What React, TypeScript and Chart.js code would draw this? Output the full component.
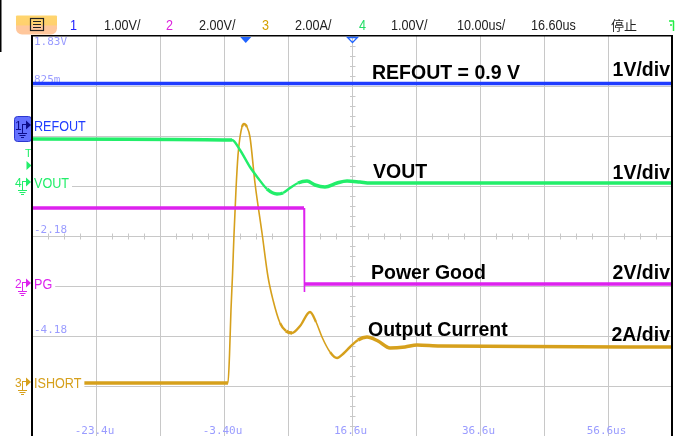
import React, { useEffect, useRef } from "react";
import { Chart, registerables } from "chart.js";
Chart.register(...registerables);

// ---------- Time base (microseconds, 10 us/div, trigger at 0) ----------
const timeMin = -33.4;
const timeMax = 66.6;
const timeGrid = [-23.4, -13.4, -3.4, 6.6, 16.6, 26.6, 36.6, 46.6, 56.6];
const timeLabelValues = [-23.4, -3.4, 16.6, 36.6, 56.6];
const timeLabels = ["-23.4u", "-3.40u", "16.6u", "36.6u", "56.6us"];
const divGrid = [-3, -2, -1, 0, 1, 2, 3];

// ---------- Channel 1: REFOUT (V) ----------
const refoutTime = [-33.4, 66.6];
const refoutValue = [0.83, 0.83];

// ---------- Channel 4: VOUT (V) ----------
const voutTime = [-33.4, -2.15, -0.9, 0.66, 1.91, 3.32, 4.88, 5.82, 6.91, 8.16, 9.57, 10.82, 12.38, 14.26, 15.82, 17.85, 19.41, 24.1, 66.6];
const voutValue = [0.86, 0.84, 0.64, 0.3, 0.08, -0.14, -0.24, -0.22, -0.12, -0.02, 0.02, -0.06, -0.1, -0.02, 0.02, 0.0, -0.02, -0.02, -0.02];

// ---------- Channel 2: PG (V) ----------
const pgTime = [-33.4, 9.1, 9.1, 9.25, 9.45, 66.6];
const pgValue = [3.0, 3.0, -0.36, -0.04, -0.04, -0.04];

// ---------- Channel 3: ISHORT (A) ----------
const ishortTime = [-33.4, -2.78, -2.54, -2.31, -2.07, -1.84, -1.53, -1.21, -0.9, -0.59, -0.28, 0.19, 0.66, 1.44, 2.54, 3.48, 4.26, 5.35, 6.29, 7.23, 8.48, 10.04, 10.98, 11.91, 13.16, 14.26, 15.35, 16.29, 17.54, 18.94, 20.66, 22.54, 24.88, 26.76, 30.35, 66.6];
const ishortValue = [-0.04, -0.04, 1.08, 2.88, 4.28, 5.88, 7.68, 9.08, 9.8, 10.2, 10.32, 10.2, 9.8, 7.96, 5.96, 4.2, 3.28, 2.36, 2.04, 1.96, 2.24, 2.8, 2.4, 1.8, 1.2, 0.96, 1.16, 1.4, 1.68, 1.8, 1.64, 1.36, 1.4, 1.48, 1.44, 1.4];

// ---------- Channel settings ----------
const channelNames = ["REFOUT", "VOUT", "PG", "ISHORT"];
const channelNumbers = ["1", "4", "2", "3"];
const channelUnitsPerDiv = [1, 1, 2, 2];
const channelGroundDiv = [2.22, 1.08, -0.94, -2.92];
const channelColors = ["#1f3cff", "#22ee6a", "#dd22ee", "#d6a01c"];

// ---------- Texts ----------
const levelTexts = ["1.83V", "825m", "-2.18", "-4.18"];
const levelDivs = [3.87, 3.12, 0.12, -1.88];
const headerTexts = ["1", "1.00V/", "2", "2.00V/", "3", "2.00A/", "4", "1.00V/", "10.00us/", "16.60us", "停止"];
const annotationTexts = ["REFOUT = 0.9 V", "VOUT", "Power Good", "Output Current"];
const scaleTexts = ["1V/div", "1V/div", "2V/div", "2A/div"];

const traceTimes = [refoutTime, voutTime, pgTime, ishortTime];
const traceValues = [refoutValue, voutValue, pgValue, ishortValue];

function txt(ctx: CanvasRenderingContext2D, s: string, x: number, y: number, font: string, color: string, sx = 1, align: CanvasTextAlign = "left") {
  ctx.save();
  ctx.font = font;
  ctx.fillStyle = color;
  ctx.textAlign = align;
  ctx.textBaseline = "alphabetic";
  ctx.translate(x, y);
  ctx.scale(sx, 1);
  ctx.fillText(s, 0, 0);
  ctx.restore();
}

const segWidth = (c: any) => {
  const dx = Math.abs(c.p1.x - c.p0.x);
  const dy = Math.abs(c.p1.y - c.p0.y);
  if (dy > 1.8 * dx) return 1.6;
  if (dy > 0.6 * dx) return 2.4;
  return 3.5;
};

function drawMarker(ctx: CanvasRenderingContext2D, num: string, gy: number, color: string) {
  txt(ctx, num, 15, gy + 4.5, "12px 'Liberation Sans', Arial, sans-serif", color);
  ctx.save();
  ctx.strokeStyle = color;
  ctx.fillStyle = color;
  ctx.lineWidth = 1;
  ctx.beginPath();
  ctx.moveTo(22, gy - 0.5);
  ctx.lineTo(26, gy - 0.5);
  ctx.moveTo(22.5, gy - 0.5);
  ctx.lineTo(22.5, gy + 8);
  ctx.moveTo(18, gy + 8.5);
  ctx.lineTo(27, gy + 8.5);
  ctx.moveTo(19.5, gy + 10.5);
  ctx.lineTo(25.5, gy + 10.5);
  ctx.moveTo(21, gy + 12.5);
  ctx.lineTo(24, gy + 12.5);
  ctx.stroke();
  ctx.beginPath();
  ctx.moveTo(26, gy - 4.5);
  ctx.lineTo(31, gy);
  ctx.lineTo(26, gy + 4.5);
  ctx.closePath();
  ctx.fill();
  ctx.restore();
}

const scopePlugin = {
  id: "scope",
  beforeDatasetsDraw(chart: any) {
    const { ctx, chartArea: a, scales } = chart;
    const x = scales.x, y = scales.y;
    ctx.save();
    ctx.strokeStyle = "#c8c8c8";
    ctx.lineWidth = 1;
    ctx.beginPath();
    timeGrid.forEach((t) => {
      const px = Math.round(x.getPixelForValue(t)) + 0.5;
      ctx.moveTo(px, a.top);
      ctx.lineTo(px, a.bottom);
    });
    divGrid.forEach((d) => {
      const py = Math.round(y.getPixelForValue(d)) + 0.5;
      ctx.moveTo(a.left, py);
      ctx.lineTo(a.right, py);
    });
    ctx.stroke();
    // minor ticks on centre axes
    const cx = Math.round(x.getPixelForValue(16.6)) + 0.5;
    const cy = Math.round(y.getPixelForValue(0)) + 0.5;
    ctx.beginPath();
    for (let i = 0; i <= 40; i++) {
      const py = Math.round(y.getPixelForValue(-4 + i * 0.2)) + 0.5;
      ctx.moveTo(cx - 2.5, py);
      ctx.lineTo(cx + 3, py);
    }
    for (let i = 0; i <= 40; i++) {
      const px = Math.round(x.getPixelForValue(timeMin + i * 2.5)) + 0.5;
      ctx.moveTo(px, cy - 3);
      ctx.lineTo(px, cy + 3);
    }
    ctx.stroke();
    // level readouts
    ctx.textBaseline = "middle";
    levelTexts.forEach((s, i) => {
      ctx.font = "11px 'DejaVu Sans Mono', monospace";
      ctx.fillStyle = "#9a9cff";
      ctx.textAlign = "left";
      ctx.fillText(s, 34, y.getPixelForValue(levelDivs[i]));
    });
    timeLabels.forEach((s, i) => {
      ctx.font = "11px 'DejaVu Sans Mono', monospace";
      ctx.fillStyle = "#9a9cff";
      ctx.textAlign = "center";
      ctx.fillText(s, x.getPixelForValue(timeLabelValues[i]) - 1.5, 431);
    });
    ctx.restore();
  },
  afterDatasetsDraw(chart: any) {
    const { ctx, chartArea: a, scales } = chart;
    const x = scales.x, y = scales.y;
    ctx.save();
    // channel name labels with white background
    const labelFont = "14px 'Liberation Sans', Arial, sans-serif";
    channelNames.forEach((name, i) => {
      const gy = y.getPixelForValue(channelGroundDiv[i]);
      ctx.font = labelFont;
      const w = ctx.measureText(name).width * 0.9;
      ctx.fillStyle = "#ffffff";
      ctx.fillRect(a.left + 1, gy - 7, w + 4, 14);
      txt(ctx, name, 34, gy + 5.5, labelFont, channelColors[i], 0.9);
    });
    // channel 1 marker box
    const g1 = y.getPixelForValue(channelGroundDiv[0]);
    ctx.beginPath();
    ctx.roundRect(14.5, g1 - 8.5, 17, 25, 3);
    ctx.fillStyle = "#6471ff";
    ctx.fill();
    ctx.strokeStyle = "#2b37d0";
    ctx.lineWidth = 1;
    ctx.stroke();
    drawMarker(ctx, channelNumbers[0], g1, "#0d0d8a");
    for (let i = 1; i < 4; i++) {
      drawMarker(ctx, channelNumbers[i], y.getPixelForValue(channelGroundDiv[i]), channelColors[i]);
    }
    // trigger level marker
    txt(ctx, "T", 25, 157, "11px 'Liberation Sans', Arial, sans-serif", "#22ee6a");
    ctx.fillStyle = "#22ee6a";
    ctx.beginPath();
    ctx.moveTo(26.5, 161);
    ctx.lineTo(31.5, 165.5);
    ctx.lineTo(26.5, 170);
    ctx.closePath();
    ctx.fill();

    // annotations
    const aFont = "bold 19.5px 'Liberation Sans', Arial, sans-serif";
    const annX = [372, 373, 371, 368];
    const annY = [79, 178, 279, 336];
    const scY = [76, 179, 279, 341];
    annotationTexts.forEach((s, i) => txt(ctx, s, annX[i], annY[i], aFont, "#000000"));
    scaleTexts.forEach((s, i) => txt(ctx, s, 670, scY[i], aFont, "#000000", 1, "right"));

    // borders
    ctx.fillStyle = "#000000";
    ctx.fillRect(a.left - 1, a.top - 1, a.right - a.left + 2, 1.5);
    ctx.fillRect(a.left - 1, a.top - 1, 2, a.bottom - a.top + 1);
    ctx.fillRect(a.right - 1, a.top - 1, 2, a.bottom - a.top + 1);
    ctx.fillRect(0, 0, 1.5, 52);

    // trigger position markers
    const tp = x.getPixelForValue(0);
    ctx.fillStyle = "#1f63ff";
    ctx.beginPath();
    ctx.moveTo(tp - 5.5, a.top + 1);
    ctx.lineTo(tp + 5.5, a.top + 1);
    ctx.lineTo(tp, a.top + 7);
    ctx.closePath();
    ctx.fill();
    const cp = x.getPixelForValue(16.6) + 0.5;
    ctx.strokeStyle = "#1f63ff";
    ctx.lineWidth = 1.3;
    ctx.beginPath();
    ctx.moveTo(cp - 5, a.top + 1.5);
    ctx.lineTo(cp + 5, a.top + 1.5);
    ctx.lineTo(cp, a.top + 6.5);
    ctx.closePath();
    ctx.stroke();

    // header bar
    const grad = ctx.createLinearGradient(0, 16, 0, 34);
    grad.addColorStop(0, "#ffd56e");
    grad.addColorStop(0.5, "#ffd06e");
    grad.addColorStop(0.55, "#ffc79c");
    grad.addColorStop(1, "#ffc79c");
    ctx.fillStyle = grad;
    ctx.beginPath();
    ctx.roundRect(16, 15.5, 41, 19, [1, 1, 6, 6]);
    ctx.fill();
    ctx.strokeStyle = "#222222";
    ctx.lineWidth = 1.2;
    ctx.strokeRect(30.5, 18.5, 13, 12);
    ctx.beginPath();
    ctx.moveTo(33, 21.5); ctx.lineTo(41, 21.5);
    ctx.moveTo(33, 24.5); ctx.lineTo(41, 24.5);
    ctx.moveTo(33, 27.5); ctx.lineTo(41, 27.5);
    ctx.stroke();

    const hFont = "14px 'Liberation Sans', Arial, sans-serif";
    const hX = [70, 104, 166, 199, 262, 295, 359, 391, 457, 531];
    const hColors = ["#2222ff", "#222222", "#dd22dd", "#222222", "#d4a000", "#222222", "#22dd66", "#222222", "#222222", "#222222"];
    for (let i = 0; i < 10; i++) txt(ctx, headerTexts[i], hX[i], 30, hFont, hColors[i], 0.9);
    txt(ctx, headerTexts[10], 611, 30, "13px 'Noto Sans CJK SC', sans-serif", "#222222");
    ctx.strokeStyle = "#22ee44";
    ctx.lineWidth = 1.5;
    ctx.beginPath();
    ctx.moveTo(669, 21); ctx.lineTo(674, 21);
    ctx.moveTo(673.5, 21); ctx.lineTo(673.5, 31);
    ctx.moveTo(670, 25); ctx.lineTo(672, 25);
    ctx.stroke();
    ctx.restore();
  },
};

export default function App() {
  const ref = useRef<HTMLCanvasElement>(null);
  useEffect(() => {
    const order = [0, 1, 2, 3];
    const datasets = order.map((i) => ({
      label: channelNames[i],
      data: traceTimes[i].map((t, k) => ({ x: t, y: channelGroundDiv[i] + traceValues[i][k] / channelUnitsPerDiv[i] })),
      showLine: true,
      borderColor: channelColors[i],
      backgroundColor: channelColors[i],
      borderWidth: 3.5,
      pointRadius: 0,
      fill: false,
      cubicInterpolationMode: i === 1 || i === 3 ? ("monotone" as const) : ("default" as const),
      tension: 0,
      segment: { borderWidth: segWidth },
    }));
    const chart = new Chart(ref.current as HTMLCanvasElement, {
      type: "scatter",
      data: { datasets },
      options: {
        animation: false,
        responsive: false,
        devicePixelRatio: 1,
        layout: { padding: { left: 32, top: 36, right: 16, bottom: 0 } },
        scales: {
          x: { type: "linear", min: timeMin, max: timeMax, display: false },
          y: { type: "linear", min: -4, max: 4, display: false },
        },
        plugins: { legend: { display: false }, tooltip: { enabled: false } },
      },
      plugins: [scopePlugin],
    } as any);
    return () => chart.destroy();
  }, []);
  return (
    <div style={{ position: "absolute", left: 0, top: 0, width: 688, height: 436, background: "#ffffff" }}>
      <canvas ref={ref} width={688} height={436} style={{ display: "block" }} />
    </div>
  );
}
